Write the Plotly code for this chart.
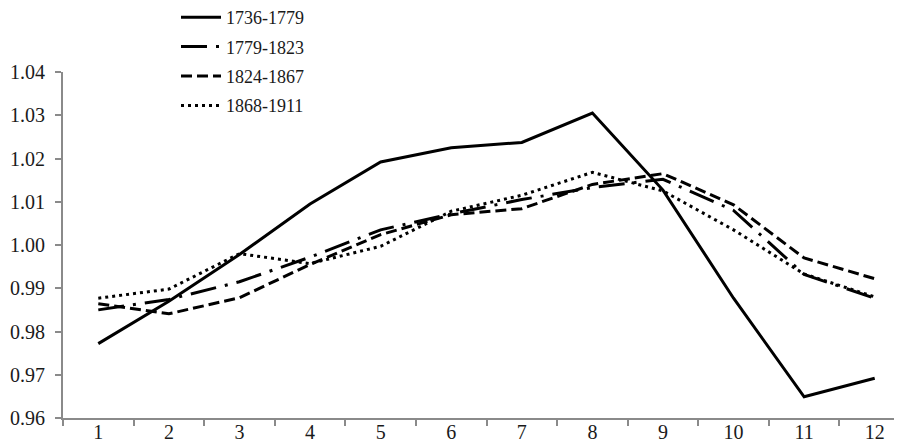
import plotly.graph_objects as go

months = ["1", "2", "3", "4", "5", "6", "7", "8", "9", "10", "11", "12"]

s_1736_1779 = [0.9772, 0.9870, 0.9978, 1.0095, 1.0192, 1.0225, 1.0237, 1.0305, 1.0127, 0.9877, 0.9649, 0.9692]
s_1779_1823 = [0.9850, 0.9874, 0.9915, 0.9972, 1.0035, 1.0072, 1.0105, 1.0133, 1.0152, 1.0080, 0.9932, 0.9877]
s_1824_1867 = [0.9864, 0.9841, 0.9878, 0.9955, 1.0024, 1.0070, 1.0084, 1.0140, 1.0165, 1.0093, 0.9970, 0.9922]
s_1868_1911 = [0.9877, 0.9898, 0.9980, 0.9957, 0.9997, 1.0078, 1.0115, 1.0168, 1.0125, 1.0035, 0.9933, 0.9880]

names = ["1736-1779", "1779-1823", "1824-1867", "1868-1911"]
series = [s_1736_1779, s_1779_1823, s_1824_1867, s_1868_1911]
dashes = ["solid", "26px,9px,3px,9px", "11px,5px", "3px,4px"]

FONT = "Liberation Serif, Times New Roman, Times, serif"
TICKFONT = dict(family=FONT, size=20, color="#1a1a1a")

fig = go.Figure()
for i, (name, vals, d) in enumerate(zip(names, series, dashes)):
    fig.add_trace(go.Scatter(
        x=months, y=vals, name=name, mode="lines", legendgroup=f"g{i}",
        line=dict(color="black", width=3, dash=d),
    ))

fig.update_layout(
    width=902, height=446,
    margin=dict(l=55, r=0, t=64, b=36, autoexpand=False),
    paper_bgcolor="white", plot_bgcolor="white",
    font=dict(family=FONT, size=18, color="#1a1a1a"),
    showlegend=True,
    legend=dict(
        x=168 / 902, y=1 + (64 + 9) / 346, xref="container", yref="paper",
        xanchor="left", yanchor="top",
        bgcolor="rgba(0,0,0,0)",
        font=dict(family=FONT, size=18, color="#1a1a1a"),
        itemwidth=40,
        tracegroupgap=3,
    ),
    xaxis=dict(
        type="category", range=[-0.5, 11.5],
        showline=True, linecolor="#8a8a8a", linewidth=2,
        ticks="outside", ticklen=6, tickwidth=1.5, tickcolor="#8a8a8a",
        tickson="boundaries", showgrid=False, zeroline=False,
        ticklabelstandoff=-5, tickfont=TICKFONT,
    ),
    yaxis=dict(
        range=[0.96, 1.04], dtick=0.01, tick0=0.96, tickformat=".2f",
        showline=True, linecolor="#8a8a8a", linewidth=2,
        ticks="outside", ticklen=6, tickwidth=1.5, tickcolor="#8a8a8a",
        showgrid=False, zeroline=False,
        ticklabelstandoff=6, tickfont=TICKFONT,
    ),
)

fig.write_html("out.html")
